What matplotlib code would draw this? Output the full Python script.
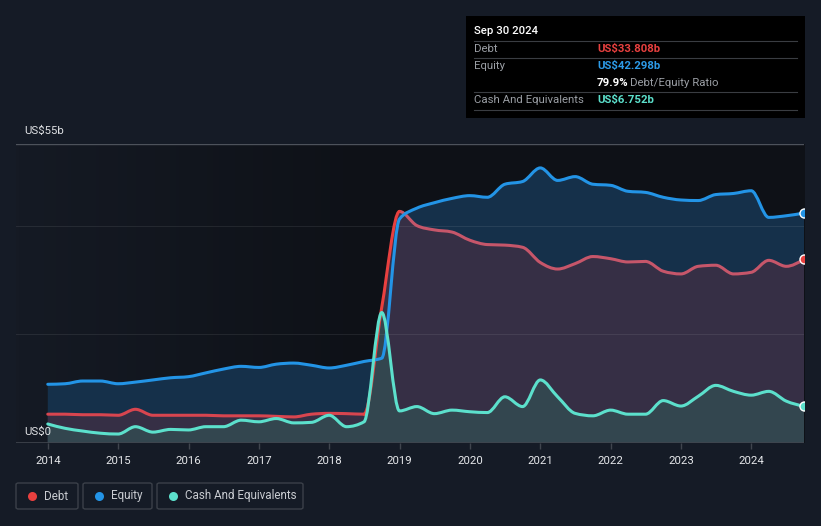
import numpy as np
import pandas as pd
import matplotlib
matplotlib.use('Agg')
import matplotlib.pyplot as plt
import matplotlib.dates as mdates
import matplotlib.transforms as mtransforms
from matplotlib.patches import Rectangle, FancyBboxPatch, PathPatch
from matplotlib.path import Path
from matplotlib.lines import Line2D
from matplotlib.colors import LinearSegmentedColormap

plt.rcParams['font.family'] = ['Roboto', 'DejaVu Sans']

# quarter ends, Dec 2013 .. Sep 2024
try:
    dates = pd.date_range('2013-12-31', '2024-09-30', freq='QE')
except ValueError:
    dates = pd.date_range('2013-12-31', '2024-09-30', freq='Q')

# values in US$ billions
equity = [10.8, 10.9, 11.4, 11.4, 10.9, 11.2, 11.6, 12.0, 12.2, 12.9, 13.6, 14.1,
          13.9, 14.5, 14.7, 14.3, 13.8, 14.3, 15.0, 15.6, 41.2, 43.2, 44.2, 45.0,
          45.5, 45.2, 47.6, 48.1, 50.6, 48.3, 49.0, 47.6, 47.4, 46.3, 46.1, 45.2,
          44.7, 44.6, 45.7, 45.9, 46.4, 41.5, 41.8, 42.298]
debt = [5.3, 5.3, 5.2, 5.2, 5.1, 6.2, 5.1, 5.1, 5.1, 5.1, 5.0, 5.0,
        5.0, 4.9, 4.8, 5.3, 5.45, 5.4, 5.3, 25.0, 42.6, 40.0, 39.2, 38.8,
        37.3, 36.5, 36.4, 36.0, 33.2, 32.0, 33.0, 34.3, 33.9, 33.3, 33.4, 31.6,
        31.1, 32.5, 32.7, 31.1, 31.4, 33.6, 32.5, 33.808]
cash = [3.5, 2.7, 2.2, 1.8, 1.65, 3.0, 2.0, 2.5, 2.4, 3.0, 3.0, 4.2,
        3.9, 4.5, 3.7, 3.8, 5.1, 3.0, 3.9, 24.0, 5.9, 6.7, 5.4, 6.05,
        5.75, 5.6, 8.5, 6.7, 11.6, 8.5, 5.45, 5.0, 6.05, 5.3, 5.3, 7.8,
        6.8, 8.6, 10.6, 9.5, 8.8, 9.5, 7.7, 6.752]

years = list(range(2014, 2025))

BG = '#151b26'
RED = '#e8403f'
BLUE = '#2394e6'
TEAL = '#5ce0cc'

xs = mdates.date2num(dates.to_pydatetime())


def tangents(x, y):
    # monotone cubic tangents (same idea as d3 curveMonotoneX)
    x = np.asarray(x, float)
    y = np.asarray(y, float)
    h = np.diff(x)
    s = np.diff(y) / h
    m = np.zeros_like(y)
    for i in range(1, len(y) - 1):
        if s[i - 1] * s[i] <= 0:
            m[i] = 0
        else:
            p = (s[i - 1] * h[i] + s[i] * h[i - 1]) / (h[i - 1] + h[i])
            m[i] = np.sign(s[i]) * min(abs(s[i - 1]), abs(s[i]), 0.5 * abs(p)) * 2
    m[0] = (3 * s[0] - m[1]) / 2
    m[-1] = (3 * s[-1] - m[-2]) / 2
    return m


def curve(x, y, i0=0, i1=None):
    y = np.asarray(y, float)
    m = tangents(x, y)
    if i1 is None:
        i1 = len(y) - 1
    verts = [(x[i0], y[i0])]
    codes = [Path.MOVETO]
    for i in range(i0, i1):
        h = x[i + 1] - x[i]
        verts += [(x[i] + h / 3, y[i] + m[i] * h / 3),
                  (x[i + 1] - h / 3, y[i + 1] - m[i + 1] * h / 3),
                  (x[i + 1], y[i + 1])]
        codes += [Path.CURVE4] * 3
    return verts, codes


def area(x, y):
    verts, codes = curve(x, y)
    verts = [(x[0], 0)] + verts + [(x[-1], 0), (x[0], 0)]
    codes = [Path.MOVETO, Path.LINETO] + codes[1:] + [Path.LINETO, Path.CLOSEPOLY]
    return Path(verts, codes)


fig = plt.figure(figsize=(8.21, 5.26), dpi=100, facecolor=BG)
W, H = 821, 526
ax = fig.add_axes([16 / W, 83 / H, (804 - 16) / W, (443 - 144) / H])
ax.set_facecolor('#10141b')

# background gradient, lighter on the left
grad = np.clip(np.linspace(0, 1, 256) / 0.45, 0, 1)[None, :]
bgcmap = LinearSegmentedColormap.from_list('bg', ['#151a24', '#0e1117'])
ax.imshow(grad, cmap=bgcmap, aspect='auto', extent=[0, 1, 0, 1],
          transform=ax.transAxes, zorder=0)

ax.add_patch(PathPatch(area(xs, equity), facecolor='#15304a', lw=0, zorder=1))
ax.add_patch(PathPatch(area(xs, debt), facecolor='#362f45', lw=0, zorder=2))
ax.add_patch(PathPatch(area(xs, cash), facecolor='#33464f', lw=0, zorder=3))

# grid lines over fills
for v in [20, 40]:
    ax.axhline(v, color='#ffffff', alpha=0.08, lw=0.8, zorder=4)
ax.axhline(55, color='#4d525b', lw=1.0, zorder=4)
ax.axhline(0, color='#40454e', lw=1.2, zorder=4)


def line(y, c, z, i0=0, i1=None):
    v, cd = curve(xs, y, i0, i1)
    ax.add_patch(PathPatch(Path(v, cd), facecolor='none', edgecolor=c, lw=2.2,
                           zorder=z, capstyle='round', joinstyle='round'))


# debt line: brighter where it is not under the equity band
line(debt, '#d8454f', 5, 0, 18)
line(debt, '#c6566a', 5, 20, None)
line(debt, RED, 5, 18, 20)
line(equity, BLUE, 6)
line(cash, TEAL, 7)

for vals, c in [(equity, BLUE), (debt, RED), (cash, TEAL)]:
    ax.plot(dates[-1], vals[-1], 'o', ms=6.5, mfc=c, mec='white', mew=1.0, zorder=8)

ax.set_ylim(0, 55)
ax.set_xlim(pd.Timestamp('2013-07-19'), pd.Timestamp('2024-09-30'))
for s in ax.spines.values():
    s.set_visible(False)
ax.set_yticks([])
ax.set_xticks([pd.Timestamp(f'{y}-01-01') for y in years])
ax.set_xticklabels([str(y) for y in years])
ax.tick_params(axis='x', length=4, width=1, color='#40454e', pad=5,
               labelsize=8.2, labelcolor='#e6e8eb')

bt = mtransforms.blended_transform_factory(ax.transAxes, ax.transData)
t1 = ax.text(8 / 788, 55, 'US$55b', va='bottom', ha='left', fontsize=8.2, color='#e0e2e5')
t1.set_transform(bt + mtransforms.ScaledTranslation(0, 6 / 72, fig.dpi_scale_trans))
t2 = ax.text(8 / 788, 0, 'US$0', va='bottom', ha='left', fontsize=8.2, color='#e0e2e5', zorder=9)
t2.set_transform(bt + mtransforms.ScaledTranslation(0, 4 / 72, fig.dpi_scale_trans))


def fx(px):
    return px / W


def fy(py):
    return 1 - py / H


# tooltip box
fig.patches.append(Rectangle((fx(466), fy(118)), fx(805) - fx(466), fy(16) - fy(118),
                             transform=fig.transFigure, facecolor='#000000',
                             edgecolor='none', zorder=1))
for py in [41, 58, 92, 110]:
    fig.lines.append(Line2D([fx(474), fx(797)], [fy(py), fy(py)], transform=fig.transFigure,
                            color='#3a3d42', lw=0.8))
fig.text(fx(474), fy(31), 'Sep 30 2024', color='white', fontsize=8.2,
         fontweight='medium', va='center')
rows = [('Debt', 'US$33.808b', RED, 49), ('Equity', 'US$42.298b', '#2d9be8', 66),
        ('Cash And Equivalents', 'US$6.752b', TEAL, 100)]
for lab, val, c, py in rows:
    fig.text(fx(474), fy(py), lab, color='#9a9ea4', fontsize=8.2, va='center')
    fig.text(fx(597), fy(py), val, color=c, fontsize=8.2, fontweight='bold', va='center')
fig.text(fx(597), fy(83), '79.9%', color='white', fontsize=8.2, fontweight='bold', va='center')
fig.text(fx(630), fy(83), 'Debt/Equity Ratio', color='#9a9ea4', fontsize=8.2, va='center')

# legend
legend_items = [('Debt', RED, 16, 78), ('Equity', BLUE, 83, 152),
                ('Cash And Equivalents', TEAL, 157, 303)]
for lab, c, x0, x1 in legend_items:
    fig.patches.append(FancyBboxPatch((fx(x0), fy(509)), fx(x1) - fx(x0), fy(483) - fy(509),
                                      boxstyle='round,pad=0,rounding_size=0.003',
                                      transform=fig.transFigure, facecolor='none',
                                      edgecolor='#3b4049', lw=1.0))
    fig.lines.append(Line2D([fx(x0 + 16)], [fy(496)], transform=fig.transFigure,
                            marker='o', ms=6.5, mfc=c, mec='none', lw=0))
    fig.text(fx(x0 + 28), fy(496), lab, color='#c9ccd1', fontsize=8.4, va='center')

fig.savefig('out.png', dpi=100, facecolor=BG)
